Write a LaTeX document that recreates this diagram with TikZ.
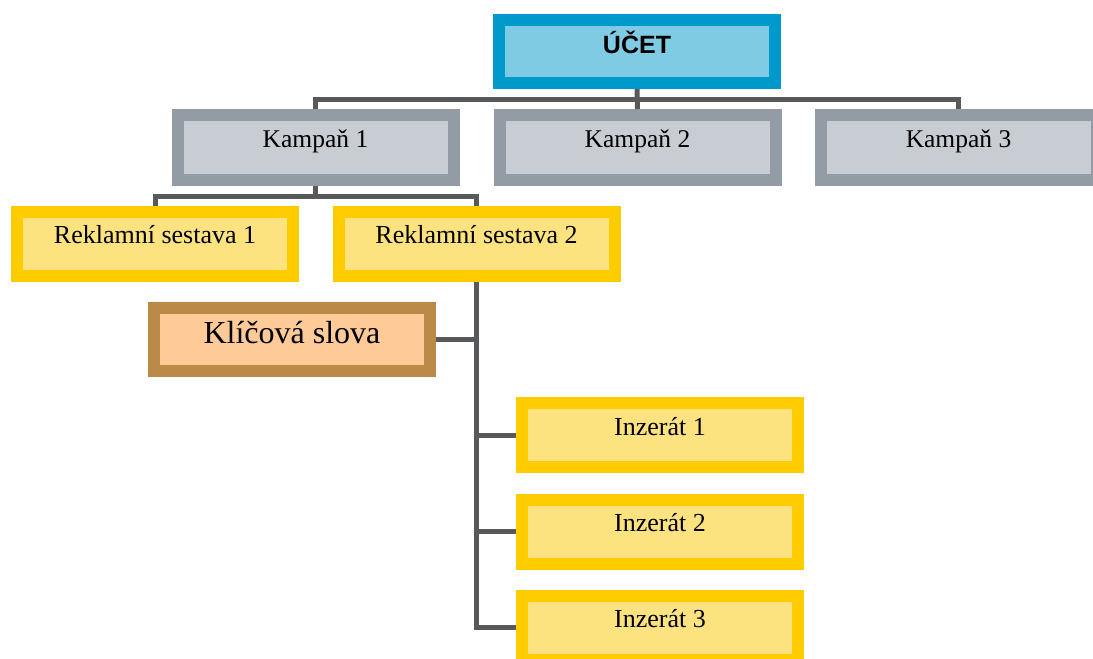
\documentclass[tikz,border=0pt]{standalone}
\usepackage{fontspec}
\setmainfont{Liberation Serif}
\newfontfamily\hdfont{Liberation Sans}
\definecolor{ucetB}{HTML}{0099CC}
\definecolor{ucetF}{HTML}{7FCBE4}
\definecolor{kampB}{HTML}{939BA5}
\definecolor{kampF}{HTML}{C8CCD3}
\definecolor{yelB}{HTML}{FFCC00}
\definecolor{yelF}{HTML}{FDE380}
\definecolor{ksB}{HTML}{BC8A48}
\definecolor{ksF}{HTML}{FECB98}
\definecolor{conn}{HTML}{58595B}
\begin{document}
\begin{tikzpicture}[x=1pt,y=-1pt,
  box/.style={rectangle, line width=12pt, minimum width=276pt, minimum height=64pt,
    inner sep=0pt, text height=12pt, text depth=12pt, font=\fontsize{26}{30}\selectfont},
  ucetbox/.style={box, draw=ucetB, fill=ucetF, minimum height=63pt, text height=14pt, text depth=10pt, font=\hdfont\bfseries\fontsize{25}{28}\selectfont},
  kampbox/.style={box, draw=kampB, fill=kampF, minimum height=65pt, font=\fontsize{25.5}{30}\selectfont},
  yelbox/.style={box, draw=yelB, fill=yelF},
  ksbox/.style={box, draw=ksB, fill=ksF, minimum height=63pt, text height=16pt, text depth=9pt, font=\fontsize{32}{36}\selectfont},
  link/.style={draw=conn, line width=5pt}]
\useasboundingbox (0,0) rectangle (1093,659);
\begin{scope}
\clip (0,0) rectangle (1093,659);
\node[ucetbox] (ucet) at (637,51.5) {ÚČET};
\node[kampbox] (k1) at (315.5,147.5) {Kampaň 1};
\node[kampbox] (k2) at (637.5,147.5) {Kampaň 2};
\node[kampbox] (k3) at (958.5,147.5) {Kampaň 3};
\node[yelbox] (r1) at (155,243.5) {Reklamní sestava 1};
\node[yelbox] (r2) at (476.5,243.5) {Reklamní sestava 2};
\node[ksbox] (ks) at (292,339.5) {Klíčová slova};
\node[yelbox] (i1) at (660,435) {Inzerát 1};
\node[yelbox] (i2) at (660,531.5) {Inzerát 2};
\node[yelbox] (i3) at (660,627.5) {Inzerát 3};
\coordinate (bus1) at (637,99);
\coordinate (bus2) at (315,196);
\draw[link] (ucet.south) -- (k2.north);
\draw[link] (k1.north) -- (k1.north |- bus1) -- (k3.north |- bus1) -- (k3.north);
\draw[link] (k1.south) -- (k1.south |- bus2);
\draw[link] (r1.north) -- (r1.north |- bus2) -- (r2.north |- bus2) -- (r2.north);
\draw[link] (r2.south) |- (i3.west);
\draw[link] (ks.east) -- (ks.east -| r2.south);
\draw[link] (i1.west) -- (i1.west -| r2.south);
\draw[link] (i2.west) -- (i2.west -| r2.south);
\end{scope}
\end{tikzpicture}
\end{document}
